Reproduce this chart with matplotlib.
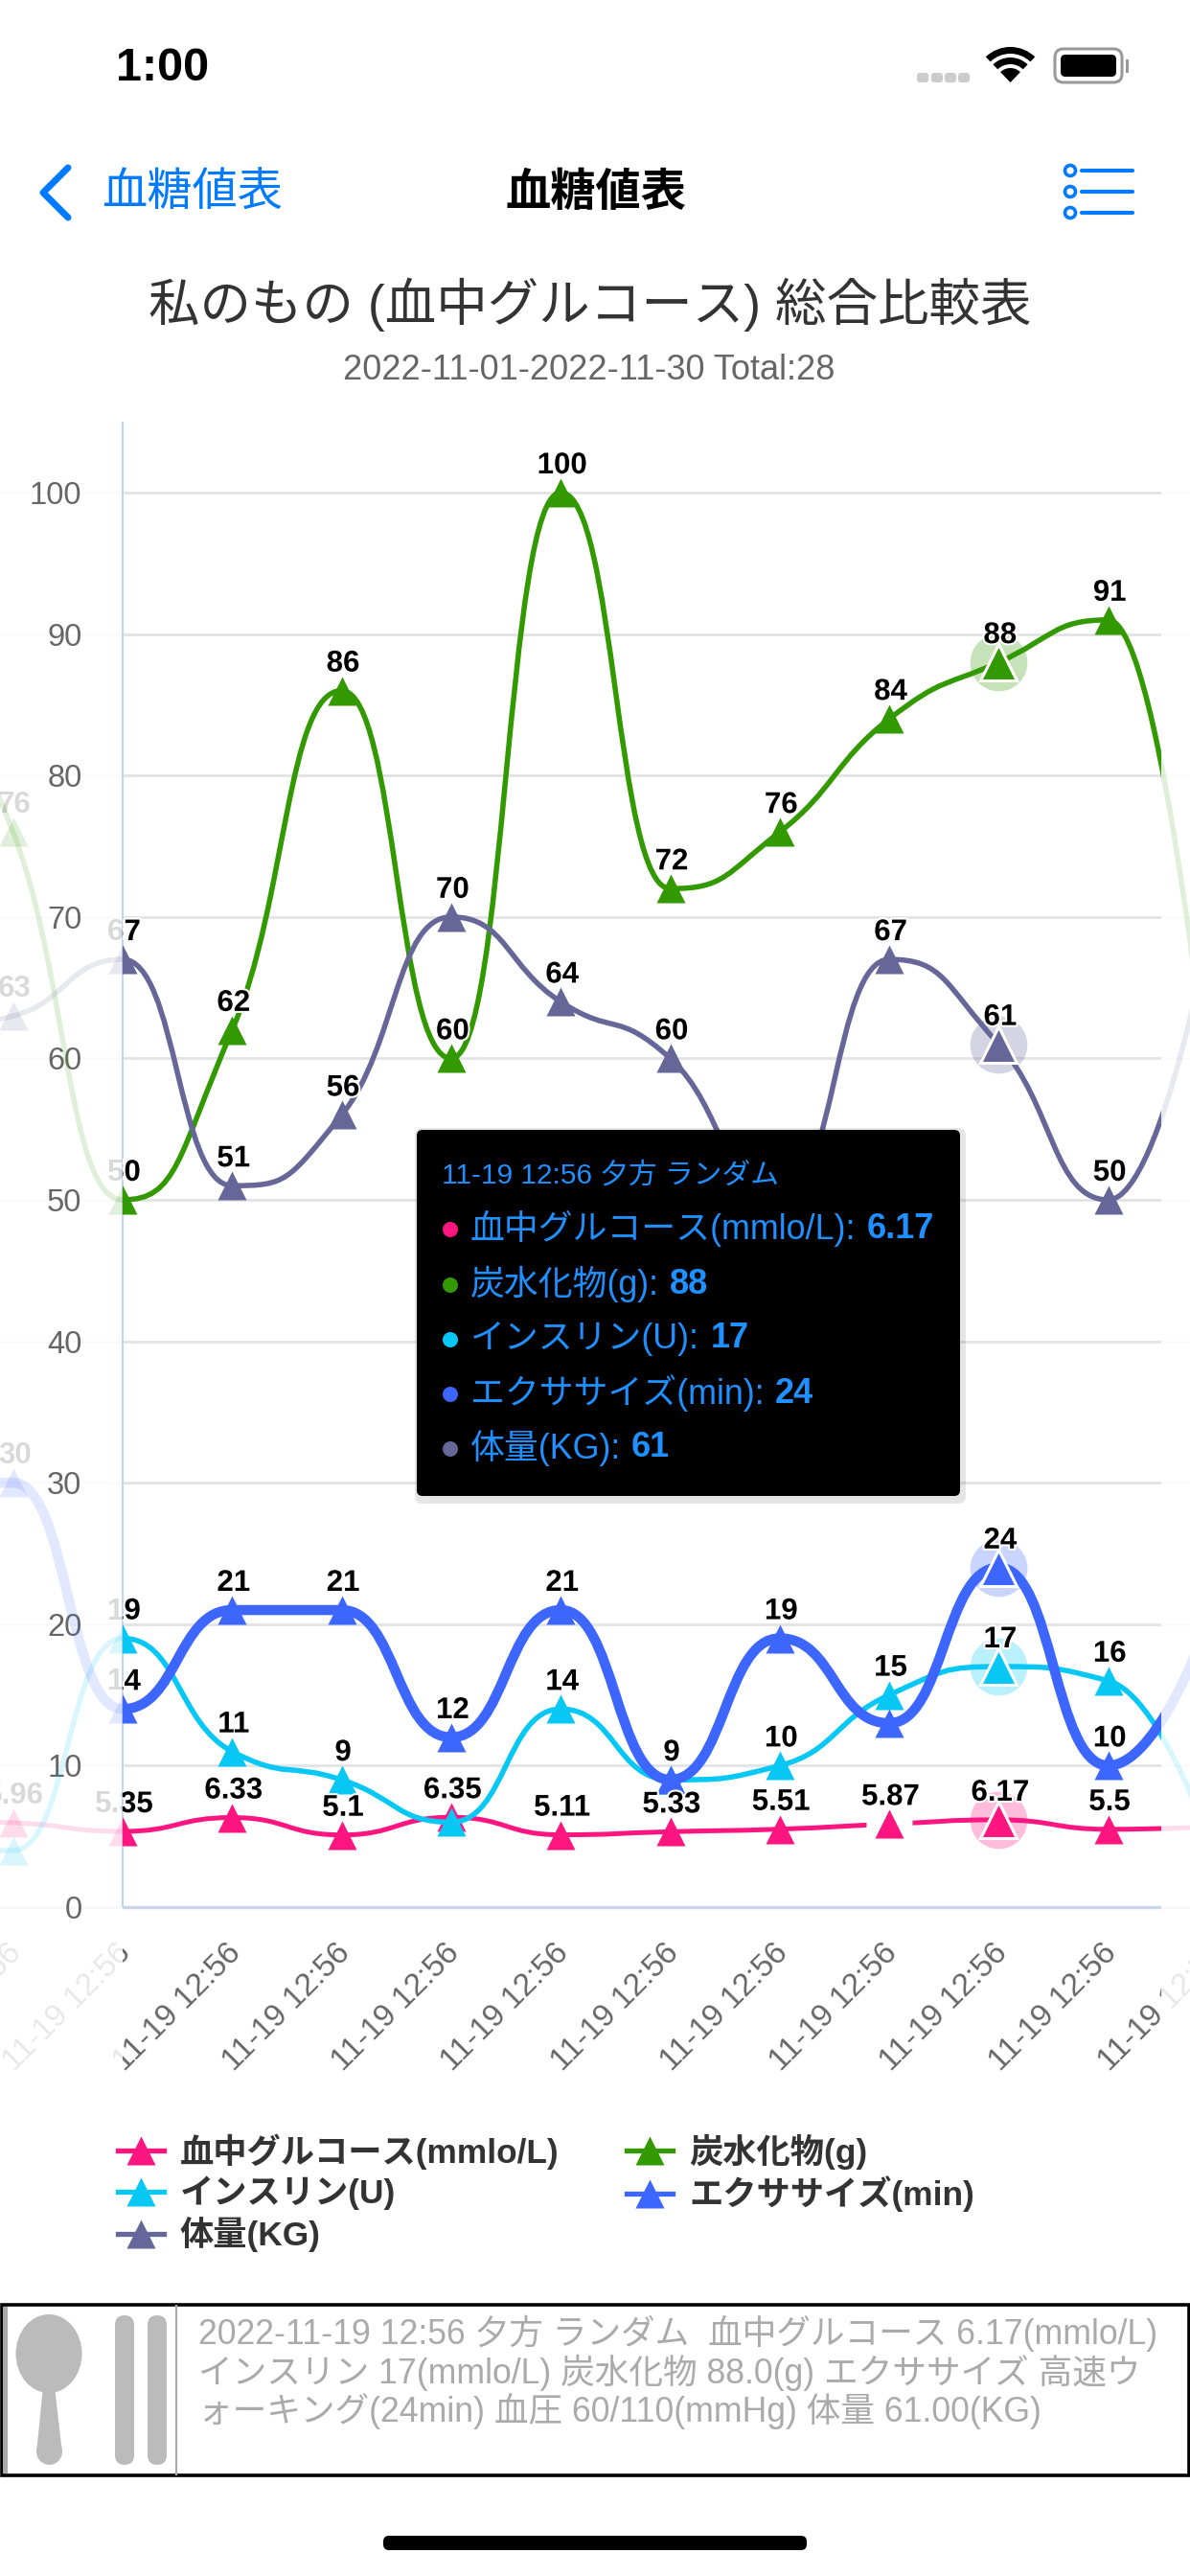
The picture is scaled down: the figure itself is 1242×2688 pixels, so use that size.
import numpy as np
import matplotlib
matplotlib.use("Agg")
import matplotlib.pyplot as plt
from matplotlib.path import Path
from matplotlib.patches import PathPatch, FancyBboxPatch, Rectangle, Circle, Ellipse, Wedge, Polygon
from matplotlib.lines import Line2D
from matplotlib.transforms import Bbox, offset_copy
from matplotlib.font_manager import FontProperties
import matplotlib.patheffects as pe

FAM = ['Liberation Sans', 'Noto Sans CJK JP', 'DejaVu Sans']
plt.rcParams['font.family'] = FAM

# ---------- data ----------
categories = ['11-19 12:56'] * 13
names = ['血中グルコース(mmlo/L)', '炭水化物(g)', 'インスリン(U)', 'エクササイズ(min)', '体量(KG)']
colors = ['#ff1580', '#339900', '#07c8f5', '#3d66ff', '#666699']
widths = [5.0, 5.5, 5.5, 10.5, 5.5]
glucose = [6.1, 5.96, 5.35, 6.33, 5.1, 6.35, 5.11, 5.33, 5.51, 5.87, 6.17, 5.5, 5.7]
carbs = [90, 76, 50, 62, 86, 60, 100, 72, 76, 84, 88, 91, 52]
insulin = [4, 4, 19, 11, 9, 6, 14, 9, 10, 15, 17, 16, 3]
exercise = [30, 30, 14, 21, 21, 12, 21, 9, 19, 13, 24, 10, 22]
weight = [62, 63, 67, 51, 56, 70, 64, 60, 50, 67, 61, 50, 72]
series = [glucose, carbs, insulin, exercise, weight]
hidden_labels = [[0], [0], [0, 1, 5, 7], [0, 9], [0, 8]]
focus = 10
yticks = [0, 10, 20, 30, 40, 50, 60, 70, 80, 90, 100]

W, H = 1242, 2688
DX, DY = 114.3, 14.76
Y0 = 1990
X_IDX0 = 13.7 - DX
CL, CR = 128, 1212

fig = plt.figure(figsize=(W / 100, H / 100), dpi=100, facecolor='white')
ax = fig.add_axes([0, 1 - Y0 / H, 1, 105 * DY / H])
ax.set_xlim(-X_IDX0 / DX, (W - X_IDX0) / DX)
ax.set_ylim(0, 105)
ax.patch.set_visible(False)
for s in ax.spines.values():
    s.set_visible(False)

INNER = Bbox([[CL, 0], [CR, H]])
LEFT = Bbox([[0, 0], [CL, H]])
RIGHT = Bbox([[CR, 0], [W, H]])
FADE = 0.15


def clip(a, box):
    a.set_clip_path(None)
    a.set_clip_on(True)
    a.set_clip_box(box)
    return a


def layers(i, reach):
    """Clip regions that a text centred on category i can touch."""
    px = X_IDX0 + i * DX
    out = []
    if px + reach > CL and px - reach < CR:
        out.append((INNER, False))
    if px - reach < CL:
        out.append((LEFT, True))
    if px + reach > CR:
        out.append((RIGHT, True))
    return out


def smooth_path(xs, ys, smooth=0.5):
    """Smoothed line through the points, flat at local extremes."""
    px = np.array(xs, float) * DX
    py = np.array(ys, float) * DY
    n = len(px)
    verts = [(px[0], py[0])]
    cp0 = (px[0], py[0])
    for i in range(1, n):
        x, y = px[i], py[i]
        if i == n - 1:
            cp1 = (x, y)
            nxt = (x, y)
        else:
            pvx, pvy, nx, ny = px[i - 1], py[i - 1], px[i + 1], py[i + 1]
            vx, vy = nx - pvx, ny - pvy
            r = 0.5
            ncx = x + vx * smooth * r
            ncy = y + vy * smooth * r
            ncy = max(min(ncy, max(ny, y)), min(ny, y))
            vy = ncy - y
            c1x = x - (ncx - x)
            c1y = y - vy
            c1y = max(min(c1y, max(pvy, y)), min(pvy, y))
            vy = y - c1y
            ncy = y + vy
            cp1 = (c1x, c1y)
            nxt = (ncx, ncy)
        verts += [cp0, cp1, (x, y)]
        cp0 = nxt
    v = np.array(verts) / np.array([DX, DY])
    codes = [Path.MOVETO] + [Path.CURVE4] * (len(v) - 1)
    return Path(v, codes)


idx = np.arange(len(categories))

# grid
for box, a in ((INNER, 1), (LEFT, FADE), (RIGHT, FADE)):
    for t in yticks[1:]:
        clip(ax.axhline(t, color='#e3e3e3', lw=2.0, alpha=a, zorder=1), box)
    clip(ax.axhline(0, color='#cbd5ea', lw=2.4, alpha=a, zorder=1.5), box)
ax.axvline(idx[2], color='#c6d3ee', lw=1.5, zorder=1.5)

ax.set_yticks(yticks, [str(t) for t in yticks])
ax.tick_params(axis='y', length=0, pad=-61.5, labelsize=23.5, labelcolor='#666666')
ax.set_xticks([])

# series
label_tf = offset_copy(ax.transData, fig=fig, x=1.5, y=28, units='dots')
for k, (vals, col, lw) in enumerate(zip(series, colors, widths)):
    z = 3 + k * 0.1
    path = smooth_path(idx, vals)
    for box, a in ((INNER, 1), (LEFT, FADE), (RIGHT, FADE)):
        p = PathPatch(path, fc='none', ec=col, lw=lw * 0.72, alpha=a, zorder=z, capstyle='round')
        ax.add_patch(p)
        clip(p, box)
        l, = ax.plot(idx, vals, ls='none', marker='^', ms=21, mfc=col, mec='none', alpha=a, zorder=z + 0.02)
        clip(l, box)
    # gap the reference leaves around one point
    if k == 0:
        clip(ax.plot(idx[9], vals[9], ls='none', marker='s', ms=34, mfc='white', mec='none', zorder=z + 0.01)[0], INNER)
    # focus highlight
    clip(ax.plot(idx[focus], vals[focus], ls='none', marker='o', ms=43, mfc=col, mec='none', alpha=0.28, zorder=z + 0.03)[0], INNER)
    clip(ax.plot(idx[focus], vals[focus], ls='none', marker='^', ms=27, mfc=col, mec='white', mew=2.2, zorder=z + 0.04)[0], INNER)

for k, vals in enumerate(series):
    for i, v in enumerate(vals[:-1]):
        if i in hidden_labels[k]:
            continue
        for box, faded in layers(i, 40):
            col = (0, 0, 0, FADE) if faded else 'black'
            eff = [] if faded else [pe.withStroke(linewidth=3, foreground='white')]
            t = ax.text(i, v, f'{v:g}', transform=label_tf, ha='center', va='center', fontsize=22.5,
                        fontweight='bold', color=col, zorder=6, path_effects=eff)
            clip(t, box)

# x labels
tick_tf = offset_copy(ax.transData, fig=fig, x=4, y=-43, units='dots')
for i, c in enumerate(categories):
    if X_IDX0 + i * DX < 0:
        continue
    for box, faded in ((INNER, False), (LEFT, True), (RIGHT, True)):
        if (faded and box is LEFT and X_IDX0 + i * DX > 300):
            continue
        if (faded and box is RIGHT and X_IDX0 + i * DX < 1212):
            continue
        colr = (0.4, 0.4, 0.4, FADE) if faded else '#666666'
        t = ax.text(i, 0, c, transform=tick_tf, rotation=45, rotation_mode='anchor', ha='right', va='center',
                    fontsize=23.8, color=colr)
        clip(t, box)

# legend
order = [0, 2, 4, 1, 3]
handles = [Line2D([], [], color=colors[k], lw=3.8, marker='^', ms=22, mec='none') for k in order]
leg = ax.legend(handles, [names[k] for k in order], ncol=2, loc='upper left',
                bbox_to_anchor=(123 / W, 1 - 2226 / H), bbox_transform=fig.transFigure,
                prop=FontProperties(family=FAM, weight='bold', size=25.4), labelcolor='#333333',
                frameon=False, handlelength=1.36, handletextpad=0.48, columnspacing=2.0,
                labelspacing=0.2, borderaxespad=0, borderpad=0)

# ---------- page chrome in pixel coordinates ----------
ov = fig.add_axes([0, 0, 1, 1], zorder=10)
ov.set_xlim(0, W)
ov.set_ylim(H, 0)
ov.axis('off')
ov.patch.set_visible(False)

BLUE = '#007aff'
ov.text(170, 71, '1:00', ha='center', va='center', fontsize=35, fontweight='bold', color='black')
for x in (957, 972, 986, 1000):
    ov.add_patch(FancyBboxPatch((x + 1, 77), 10, 8, boxstyle='round,pad=1,rounding_size=3', fc='#cccccc', ec='none'))
cx, cy = 1054.5, 86
ov.add_patch(Wedge((cx, cy), 37, 226, 314, width=7, fc='black', ec='none'))
ov.add_patch(Wedge((cx, cy), 26, 226, 314, width=7, fc='black', ec='none'))
ov.add_patch(Wedge((cx, cy), 15, 226, 314, fc='black', ec='none'))
ov.add_patch(FancyBboxPatch((1103, 53), 66, 31, boxstyle='round,pad=2,rounding_size=9', fc='white', ec='#999999', lw=2.2))
ov.add_patch(FancyBboxPatch((1108, 58), 56, 21, boxstyle='round,pad=1,rounding_size=5', fc='black', ec='none'))
ov.add_patch(Rectangle((1175, 62), 3, 14, fc='#999999', ec='none'))

ov.plot([71, 45, 71], [175, 201, 227], color=BLUE, lw=5, solid_capstyle='round', solid_joinstyle='round')
ov.text(106, 203, '血糖値表', ha='left', va='center', fontsize=34, color=BLUE)
ov.text(622, 203, '血糖値表', ha='center', va='center', fontsize=34, fontweight='bold', color='black')
for y in (178, 200, 222):
    ov.add_patch(Ellipse((1117, y), 11, 11, fc='white', ec=BLUE, lw=2.6))
    ov.plot([1129, 1182], [y, y], color=BLUE, lw=3, solid_capstyle='round')

ov.text(616, 318, '私のもの (血中グルコース) 総合比較表', ha='center', va='center', fontsize=38.5, color='#333333')
ov.text(615, 387, '2022-11-01-2022-11-30 Total:28', ha='center', va='center', fontsize=26, color='#666666')

# tooltip
ov.add_patch(FancyBboxPatch((433, 1177), 575, 392, boxstyle='round,pad=0,rounding_size=8', fc='#000000', alpha=0.10, ec='none'))
ov.add_patch(FancyBboxPatch((435, 1179), 567, 382, boxstyle='round,pad=0,rounding_size=6', fc='black', ec='none'))
TIP = '#1e90ff'
ov.text(461, 1226, '11-19 12:56 夕方 ランダム', ha='left', va='center', fontsize=21.4, color=TIP)
tip_rows = [1282, 1340, 1397, 1454, 1511]
tip_val_x = [905, 699, 742, 809, 659]
for k, (y, vx) in enumerate(zip(tip_rows, tip_val_x)):
    ov.add_patch(Ellipse((470, y + 1), 16, 16, fc=colors[k], ec='none'))
    ov.text(491, y, names[k] + ':', ha='left', va='center', fontsize=25.8, color=TIP)
    ov.text(vx, y, f'{series[k][focus]:g}', ha='left', va='center', fontsize=26, fontweight='bold', color=TIP)

# bottom panel
ov.add_patch(Rectangle((1.5, 2405), W - 3, 178, fc='white', ec='black', lw=2.6))
ov.add_patch(Rectangle((3, 2407), 5, 174, fc='#aaaaaa', ec='none'))
ov.plot([184, 184], [2406, 2582], color='#aaaaaa', lw=1.6)
G = '#bbbbbb'
ov.add_patch(Ellipse((51, 2456), 69, 82, fc=G, ec='none'))
ov.add_patch(Polygon([[45, 2490], [57, 2490], [65, 2560], [38, 2560]], fc=G, ec='none'))
ov.add_patch(Ellipse((51.5, 2558), 27, 28, fc=G, ec='none'))
for x0 in (120, 154):
    ov.add_patch(FancyBboxPatch((x0 + 2, 2418), 16, 152, boxstyle='round,pad=2,rounding_size=10', fc=G, ec='none'))
for y, s in zip((2435, 2476, 2516), (
        '2022-11-19 12:56 夕方 ランダム  血中グルコース 6.17(mmlo/L)',
        'インスリン 17(mmlo/L) 炭水化物 88.0(g) エクササイズ 高速ウ',
        'ォーキング(24min) 血圧 60/110(mmHg) 体量 61.00(KG)')):
    ov.text(207, y, s, ha='left', va='center', fontsize=25.7, color='#aaaaaa')

ov.add_patch(FancyBboxPatch((402, 2648), 438, 11, boxstyle='round,pad=2,rounding_size=6', fc='black', ec='none'))

fig.savefig('out.png', dpi=100, facecolor='white')
